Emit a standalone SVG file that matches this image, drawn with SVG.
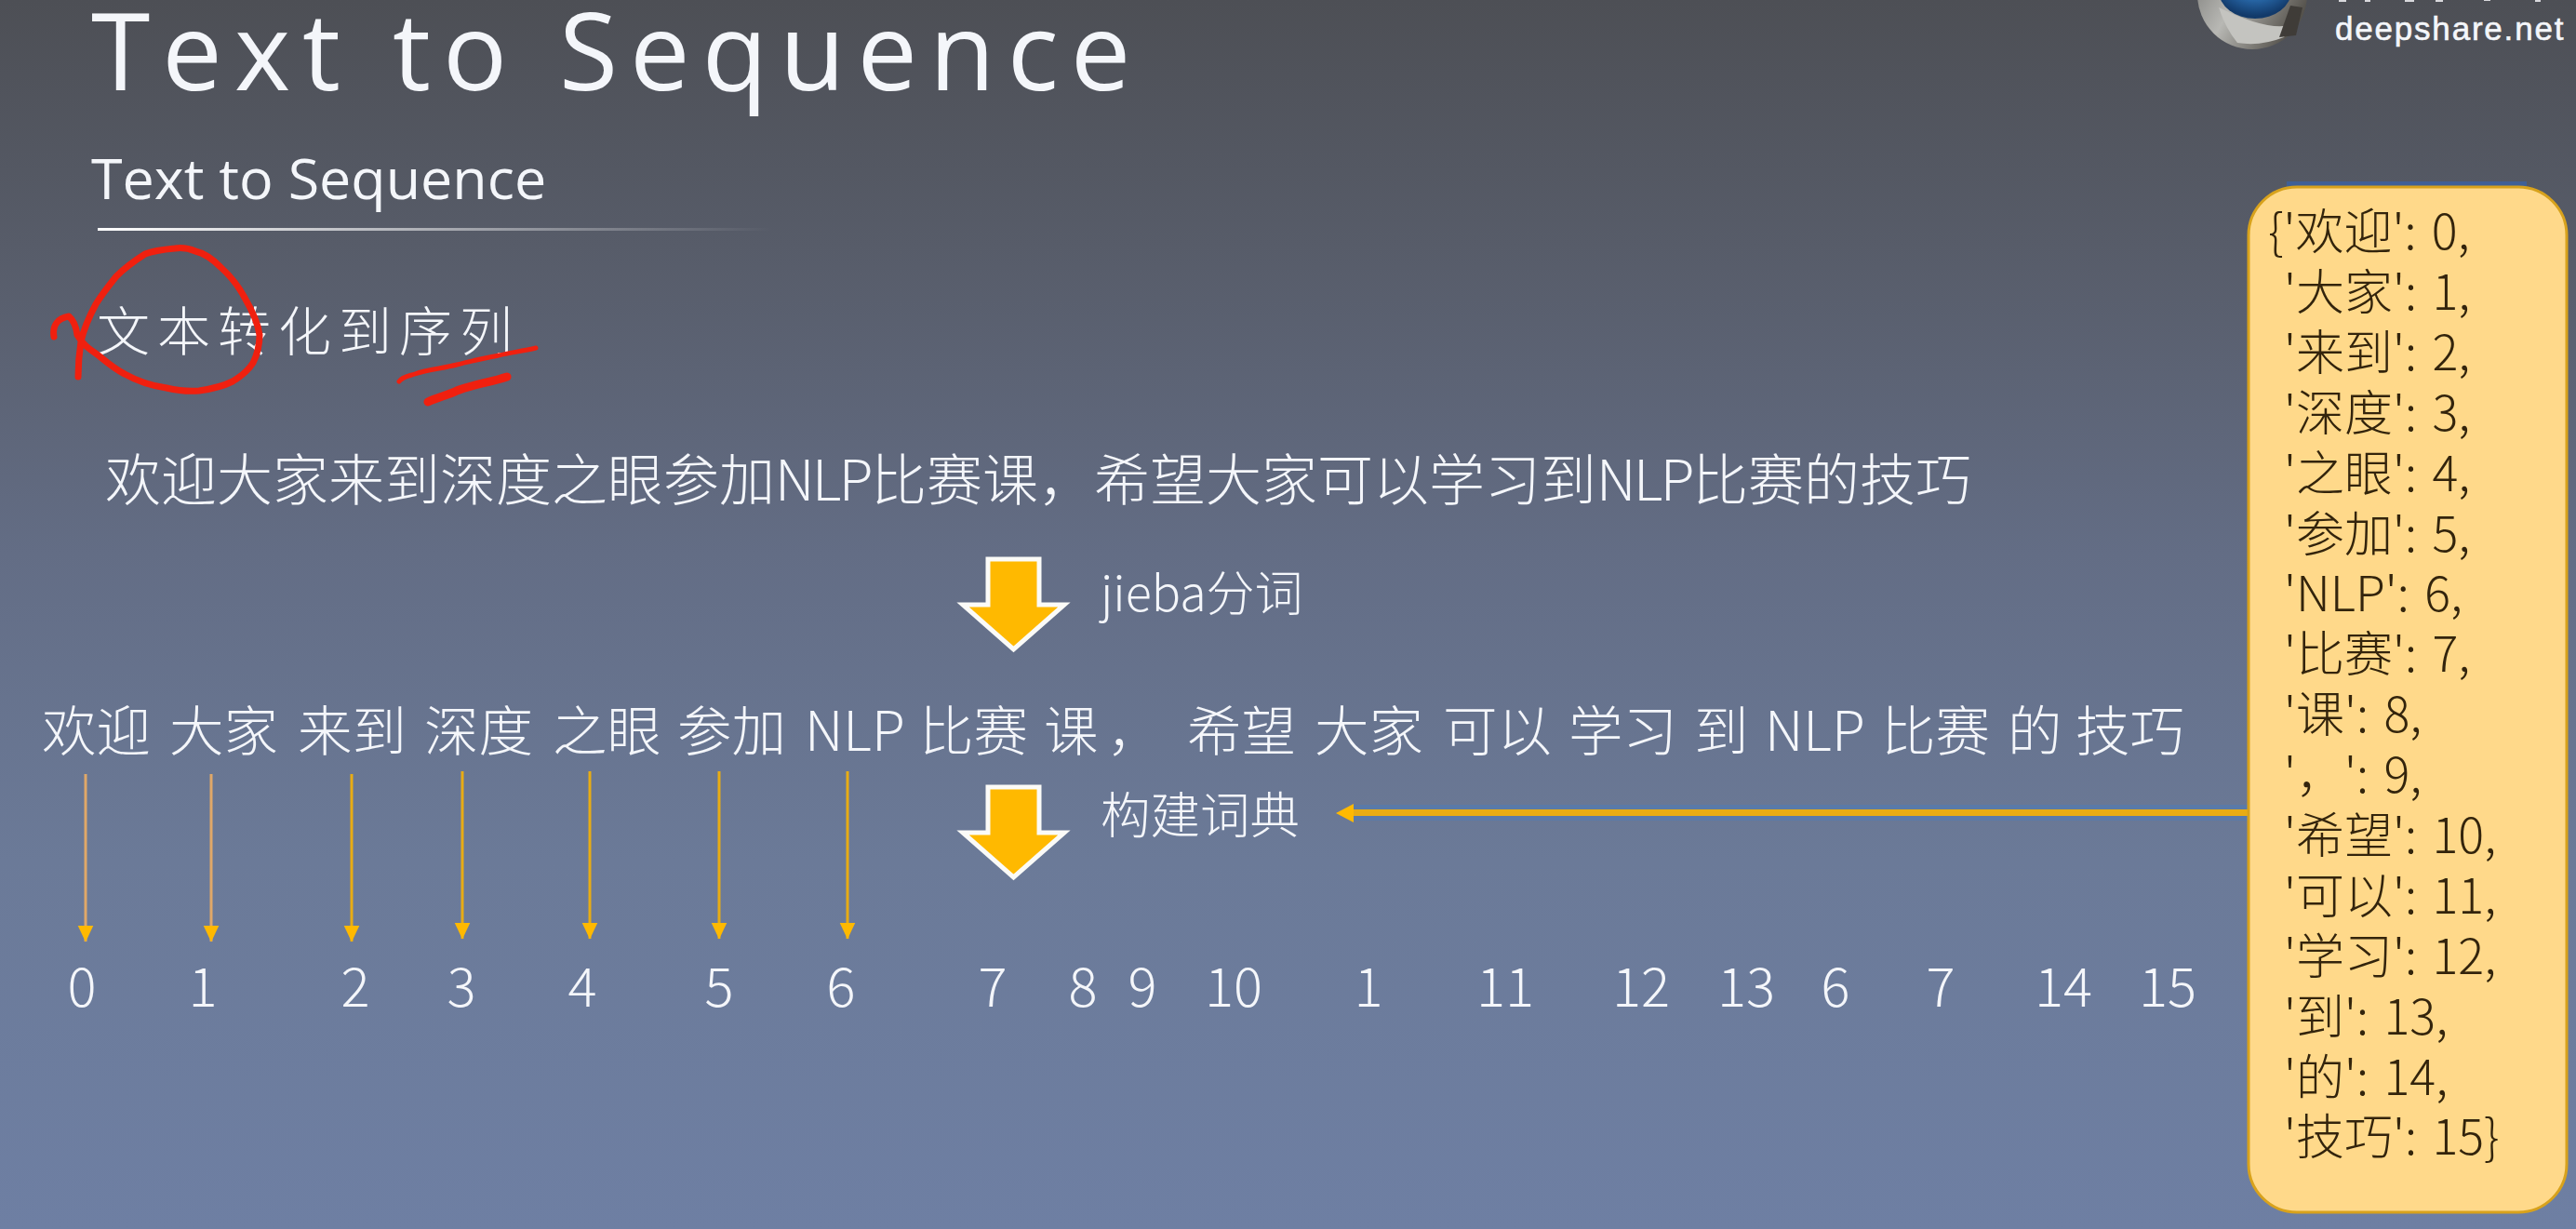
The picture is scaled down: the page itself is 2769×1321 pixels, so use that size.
<svg xmlns="http://www.w3.org/2000/svg" width="2769" height="1321" viewBox="0 0 2769 1321">
<style>
text{font-family:"Noto Sans CJK SC","Noto Sans",sans-serif;fill:#f4f6fa;font-weight:300}
.title{font-family:"Open Sans","Noto Sans",sans-serif;font-size:115px;letter-spacing:13px;font-weight:400}
.sub{font-family:"Open Sans","Noto Sans",sans-serif;font-size:61px;font-weight:400}
.row{font-size:58.500px}
.num{font-size:58px;text-anchor:middle}
.lab{font-size:53px}
.dict{font-size:52px;fill:#33240c;font-weight:300;word-spacing:5px}
.big{fill:#FFB900;stroke:#fbfbf8;stroke-width:5}
.thin{stroke:#E8AC14;stroke-width:3;marker-end:url(#m)}
.thin2{stroke:#E0A868;stroke-width:3;marker-end:url(#m)}
.red{fill:none;stroke:#F0200F;stroke-linecap:round;stroke-linejoin:round}
.nlp{letter-spacing:-2.500px}
</style>
<defs>
<linearGradient id="bg" x1="0" y1="0" x2="0" y2="1"><stop offset="0" stop-color="#4d4f55"/><stop offset="0.2" stop-color="#575c69"/><stop offset="0.45" stop-color="#636d85"/><stop offset="0.7" stop-color="#6b7a98"/><stop offset="1" stop-color="#6e7fa3"/></linearGradient>
<linearGradient id="rule" x1="0" y1="0" x2="1" y2="0"><stop offset="0" stop-color="#fff"/><stop offset="0.4" stop-color="#fff" stop-opacity=".6"/><stop offset="1" stop-color="#fff" stop-opacity="0"/></linearGradient>
<linearGradient id="ring" x1="0" y1="0" x2="1" y2="0.6"><stop offset="0" stop-color="#6f6f6c"/><stop offset="0.5" stop-color="#b8b8b4"/><stop offset="1" stop-color="#55524c"/></linearGradient>
<radialGradient id="iris" cx="0.5" cy="0.35" r="0.6"><stop offset="0" stop-color="#12284a"/><stop offset="0.45" stop-color="#2a6cae"/><stop offset="1" stop-color="#123a6a"/></radialGradient>
<marker id="m" markerUnits="userSpaceOnUse" markerWidth="18" markerHeight="19" refX="17.500" refY="8.500" orient="auto"><path d="M0 0L18 8.500L0 17z" fill="#FFB900"/></marker>
</defs>
<rect width="2769" height="1321" fill="url(#bg)"/>
<g id="logo">
<circle cx="2421" cy="-6" r="59" fill="url(#ring)"/>
<path d="M2385 8Q2440 35 2465 26L2455 40Q2430 50 2405 46Q2392 30 2385 8z" fill="#c4c4c0"/>
<path d="M2450 40L2468 38L2475 8L2462 6z" fill="#3f3c38"/>
<ellipse cx="2424" cy="-10" rx="39" ry="30" fill="url(#iris)"/>
<path d="M2514 0h8v2h-8zM2542 0h6v2h-6zM2585 0h10v2h-10zM2618 0h8v2h-8zM2670 0h7v1h-7zM2725 0h6v2h-6z" fill="#d8d8dc"/>
<text x="2510" y="43" style="font-family:'Liberation Sans',sans-serif;font-size:35px;letter-spacing:1.800px;font-weight:400;stroke:#f4f6fa;stroke-width:.6">deepshare.net</text>
</g>
<g id="heading">
<text class="title" x="98" y="97">Text to Sequence</text>
<text class="sub" x="98" y="214">Text to Sequence</text>
<rect x="105" y="245" width="725" height="3" fill="url(#rule)"/>
</g>
<g id="intro">
<text x="104" y="377" style="font-size:57px;letter-spacing:8px">文本转化到序列</text>
<path class="red" stroke-width="7" d="M58 362C56 350 62 342 74 340C80 345 82 352 83 360C90 372 98 376 107 383C118 392 124 397 134 402C150 411 165 415 179 417C192 420 203 421 214 420C228 418 240 415 250 410C260 404 267 398 272 390C277 380 279 370 279 360C277 345 270 332 263 320C255 305 246 295 237 287C228 278 219 272 210 270C203 267 195 266 188 267C177 268 166 269 156 273C145 280 134 288 125 297C117 307 109 317 103 327C96 340 90 354 87 367C85 380 84 393 84 405"/>
<path class="red" stroke-width="5" d="M429 410C432 405 440 404 446 402C460 397 476 396 491 392C506 388 522 385 536 382C550 379 563 377 576 374"/>
<path class="red" stroke-width="9" d="M460 432C470 427 481 425 491 420C509 413 527 411 545 405"/>
</g>
<g id="sentence"><text x="113" y="538" style="font-size:60px">欢迎大家来到深度之眼参加<tspan class="nlp">NLP</tspan>比赛课，希望大家可以学习到<tspan class="nlp">NLP</tspan>比赛的技巧</text></g>
<g id="tokens">
<text class="row" y="807" x="45">欢迎</text><text class="row" y="807" x="182">大家</text><text class="row" y="807" x="320">来到</text><text class="row" y="807" x="456">深度</text><text class="row" y="807" x="594">之眼</text><text class="row" y="807" x="728">参加</text><text class="row" y="807" x="865">NLP</text><text class="row" y="807" x="988">比赛</text><text class="row" y="807" x="1122">课</text><text class="row" y="807" x="1190">，</text><text class="row" y="807" x="1276">希望</text><text class="row" y="807" x="1413">大家</text><text class="row" y="807" x="1551">可以</text><text class="row" y="807" x="1686">学习</text><text class="row" y="807" x="1821">到</text><text class="row" y="807" x="1897">NLP</text><text class="row" y="807" x="2022">比赛</text><text class="row" y="807" x="2158">的</text><text class="row" y="807" x="2231">技巧</text>
</g>
<g id="step-jieba">
<polygon class="big" points="1062,601 1117,601 1117,650 1144,650 1089.500,698 1035,650 1062,650"/>
<text class="lab" x="1183" y="657" style="font-size:52px">jieba分词</text>
</g>
<g id="step-dict">
<polygon class="big" points="1062,846 1117,846 1117,895 1144,895 1089.500,943 1035,895 1062,895"/>
<text class="lab" x="1183" y="896" style="font-size:53.500px">构建词典</text>
</g>
<g id="numbers">
<text class="num" y="1082" x="88">0</text><text class="num" y="1082" x="218">1</text><text class="num" y="1082" x="382">2</text><text class="num" y="1082" x="496">3</text><text class="num" y="1082" x="626">4</text><text class="num" y="1082" x="773">5</text><text class="num" y="1082" x="904">6</text><text class="num" y="1082" x="1067">7</text><text class="num" y="1082" x="1164">8</text><text class="num" y="1082" x="1228">9</text><text class="num" y="1082" x="1326">10</text><text class="num" y="1082" x="1471">1</text><text class="num" y="1082" x="1618">11</text><text class="num" y="1082" x="1764">12</text><text class="num" y="1082" x="1877">13</text><text class="num" y="1082" x="1973">6</text><text class="num" y="1082" x="2086">7</text><text class="num" y="1082" x="2218">14</text><text class="num" y="1082" x="2330">15</text>
</g>
<g id="connectors" fill="none">
<line class="thin2" x1="92" y1="832" x2="92" y2="1012"/>
<line class="thin2" x1="227" y1="832" x2="227" y2="1012"/>
<line class="thin" x1="378" y1="832" x2="378" y2="1012"/>
<line class="thin" x1="497" y1="829" x2="497" y2="1009"/>
<line class="thin" x1="634" y1="829" x2="634" y2="1009"/>
<line class="thin" x1="773" y1="829" x2="773" y2="1009"/>
<line class="thin" x1="911" y1="829" x2="911" y2="1009"/>
<rect x="1452" y="865" width="966" height="17" fill="#5a7aa8"/>
<line x1="1452" y1="873.500" x2="2418" y2="873.500" stroke="#E8AC14" stroke-width="7"/>
<path d="M1436 874L1455 864V884z" fill="#FFB900"/>
</g>
<g id="dictionary">
<rect x="2458" y="195" width="258" height="8" fill="#3f6096"/>
<rect x="2417" y="201" width="342" height="1102" rx="52" fill="#FFD98A" stroke="#D8A21C" stroke-width="3"/>
<text class="dict" x="2438" y="268">{'欢迎': 0,</text>
<text class="dict" x="2455" y="333">'大家': 1,</text>
<text class="dict" x="2455" y="398">'来到': 2,</text>
<text class="dict" x="2455" y="463">'深度': 3,</text>
<text class="dict" x="2455" y="528">'之眼': 4,</text>
<text class="dict" x="2455" y="593">'参加': 5,</text>
<text class="dict" x="2455" y="657">'NLP': 6,</text>
<text class="dict" x="2455" y="722">'比赛': 7,</text>
<text class="dict" x="2455" y="787">'课': 8,</text>
<text class="dict" x="2455" y="852">'，': 9,</text>
<text class="dict" x="2455" y="917">'希望': 10,</text>
<text class="dict" x="2455" y="982">'可以': 11,</text>
<text class="dict" x="2455" y="1047">'学习': 12,</text>
<text class="dict" x="2455" y="1112">'到': 13,</text>
<text class="dict" x="2455" y="1177">'的': 14,</text>
<text class="dict" x="2455" y="1241">'技巧': 15}</text>
</g>
</svg>
